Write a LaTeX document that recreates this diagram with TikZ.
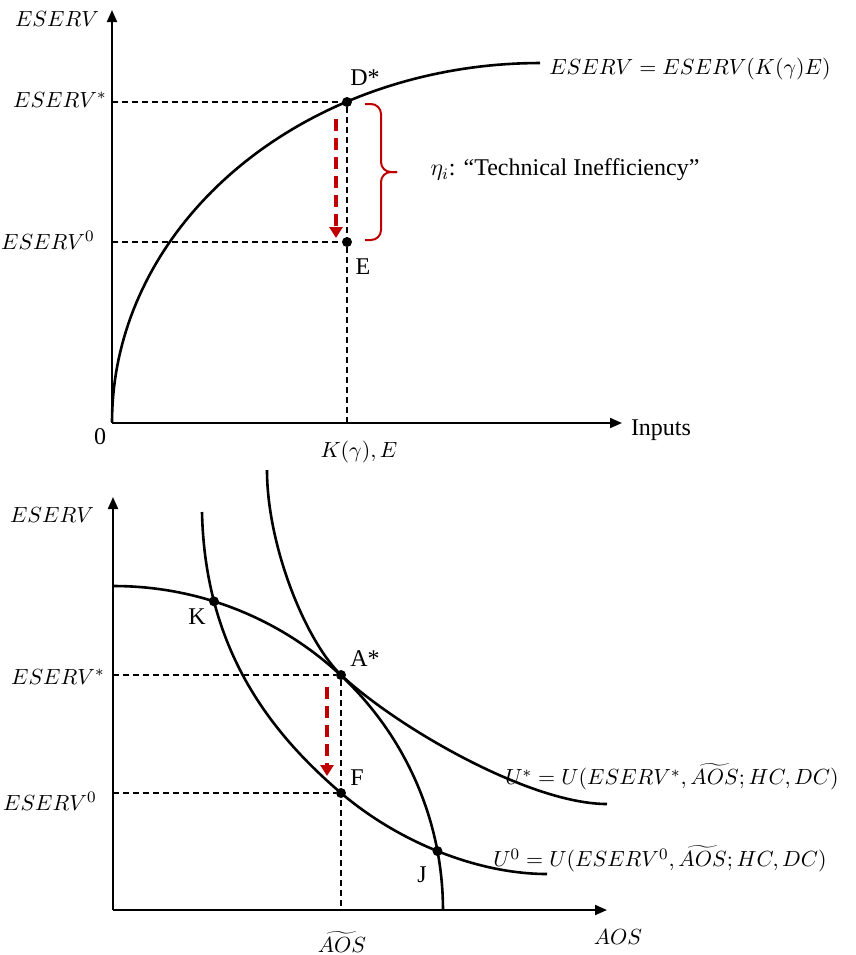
\documentclass[tikz,border=0pt,12pt]{standalone}
\usepackage{fontspec}
\setmainfont{Liberation Serif}
\usetikzlibrary{arrows.meta, intersections}
\definecolor{ineffred}{RGB}{192,0,0}

\begin{document}
\begin{tikzpicture}[
  x=0.5pt, y=-0.5pt,
  >={Triangle[length=6pt,width=5pt]},
  axisline/.style={->, line width=1pt},
  curve/.style={line width=1.3pt},
  guide/.style={line width=0.6pt, dash pattern=on 3pt off 2pt},
  redarrow/.style={
    ->, draw=ineffred, line width=1.6pt,
    dash pattern=on 6pt off 3.5pt,
    >={Triangle[length=5.5pt,width=6.5pt]}
  },
  bracket/.style={draw=ineffred, line width=1pt, rounded corners=5pt},
  dot/.style={circle, fill=black, inner sep=0pt, minimum size=5pt},
  lbl/.style={inner sep=0pt},
  mlbl/.style={lbl, font=\fontsize{11}{13}\selectfont}
]
\useasboundingbox (0,0) rectangle (856,955);

%% ---------- Top panel ----------
\coordinate (O1)    at (112,423);
\coordinate (ytop1) at (112,10);
\coordinate (xend1) at (622,423);

\draw[axisline] (O1) -- (ytop1);
\draw[axisline] (O1) -- (xend1);

%% production curve
\draw[curve] plot[domain=180:270, samples=80]
  ({540+428*cos(\x)}, {422+359*sin(\x)});

\node[dot] (Dstar) at (347,102) {};
\node[dot] (E)     at (347,242) {};

\coordinate (yD)  at (112,102);
\coordinate (yE)  at (112,242);
\coordinate (xKE) at (347,423);

\draw[guide] (yD) -- (Dstar);
\draw[guide] (yE) -- (E);
\draw[guide] (Dstar) -- (xKE);

%% inefficiency shift
\coordinate (redTop1) at (336,119);
\coordinate (redBot1) at (336,238);
\draw[redarrow] (redTop1) -- (redBot1);

\coordinate (braceTop) at (365,104);
\coordinate (braceBot) at (365,240);
\draw[bracket] (braceTop) -- ++(16,0) -- ++(0,68) -- ++(16,0);
\draw[bracket] (braceBot) -- ++(16,0) -- ++(0,-68) -- ++(16,0);

%% labels
\node[mlbl] (yLab1) at (57,19) {$ESERV$};
\node[mlbl, anchor=east] (yDLab) at (107,100) {$ESERV^{*}$};
\node[mlbl, anchor=east] (yELab) at (95,240)  {$ESERV^{0}$};
\node[lbl]  (DLab)   at (365,78)  {D*};
\node[lbl]  (ELab)   at (363,267) {E};
\node[lbl]  (zero)   at (100,437) {0};
\node[lbl]  (inputs) at (661,430) {Inputs};
\node[mlbl] (KELab)  at (359,452) {$K(\gamma), E$};
\node[mlbl] (fnLab)  at (690,69)  {$ESERV = ESERV(K(\gamma)E)$};
\node[lbl]  (etaLab) at (565,170) {$\eta_i$: “Technical Inefficiency”};

%% ---------- Bottom panel ----------
\coordinate (O2)    at (113,910);
\coordinate (ytop2) at (113,497);
\coordinate (xend2) at (607,910);

\draw[axisline] (O2) -- (ytop2);
\draw[axisline] (O2) -- (xend2);

\coordinate (Astar) at (341,675);
\coordinate (Fpt)   at (341,793);

%% frontier
\draw[curve, name path=ppf] plot[domain=270:360, samples=80]
  ({114+329*cos(\x)}, {910+324*sin(\x)});

%% indifference curves
\draw[curve] (267,470) .. controls (267,545) and (305,640) .. (Astar)
  .. controls (398,728) and (530,804) .. (607,804);
\draw[curve, name path=uzero] (202,512) .. controls (205,650) and (271,733) .. (Fpt)
  .. controls (401,844) and (480,874) .. (547,874);

\path[name intersections={of=ppf and uzero, name=X, sort by=ppf}];

\node[dot] (A) at (Astar) {};
\node[dot] (F) at (Fpt) {};
\node[dot] (K) at (X-1) {};
\node[dot] (J) at (X-2) {};

\coordinate (yA)  at (113,675);
\coordinate (yF)  at (113,793);
\coordinate (xAO) at (341,910);

\draw[guide] (yA) -- (A);
\draw[guide] (yF) -- (F);
\draw[guide] (A) -- (xAO);

\coordinate (redTop2) at (327,687);
\coordinate (redBot2) at (327,776);
\draw[redarrow] (redTop2) -- (redBot2);

%% labels
\node[mlbl] (yLab2) at (52,515) {$ESERV$};
\node[mlbl, anchor=east] (yALab) at (105,677) {$ESERV^{*}$};
\node[mlbl, anchor=east] (yFLab) at (97,801)  {$ESERV^{0}$};
\node[lbl]  (KLab)  at (197,617) {K};
\node[lbl]  (ALab)  at (365,659) {A*};
\node[lbl]  (FLab)  at (357,778) {F};
\node[lbl]  (JLab)  at (422,875) {J};
\node[mlbl] (aosT)  at (342,942) {$\widetilde{AOS}$};
\node[mlbl] (aos)   at (618,937) {$AOS$};
\node[mlbl] (UsLab) at (672,777) {$U^{*} = U(ESERV^{*}, \widetilde{AOS}; HC, DC)$};
\node[mlbl] (U0Lab) at (660,859) {$U^{0} = U(ESERV^{0}, \widetilde{AOS}; HC, DC)$};

\end{tikzpicture}
\end{document}
